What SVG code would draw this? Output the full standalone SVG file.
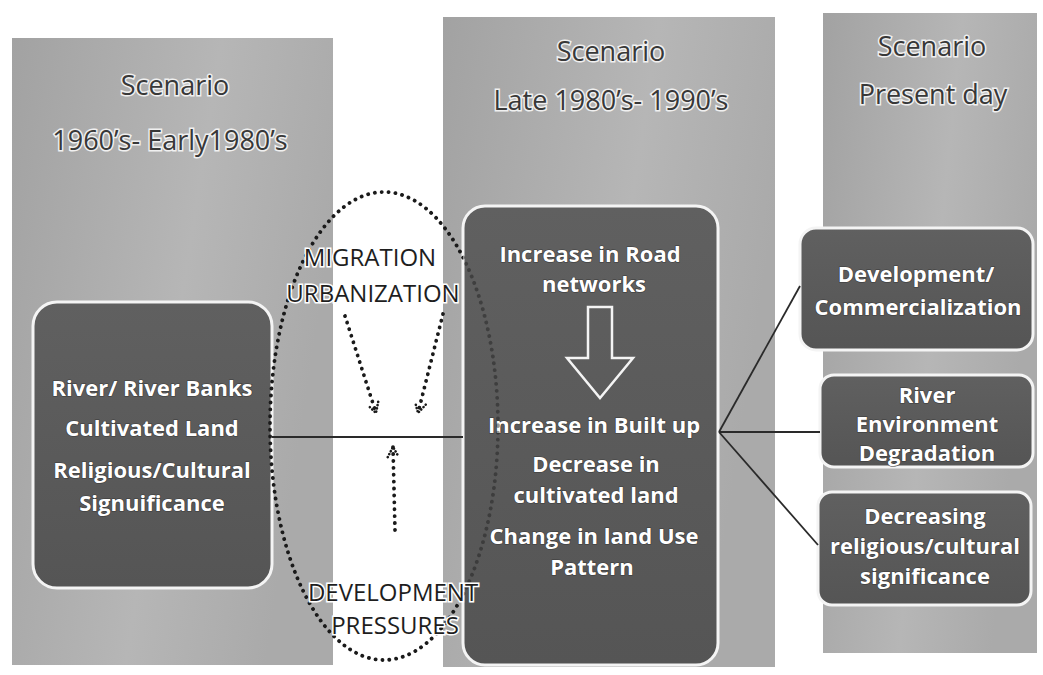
<svg xmlns="http://www.w3.org/2000/svg" width="1043" height="675" viewBox="0 0 1043 675">
  <defs>
    <linearGradient id="panelGrad" x1="0" y1="0" x2="1" y2="0.3">
      <stop offset="0" stop-color="#a2a2a2"/>
      <stop offset="0.6" stop-color="#b6b6b6"/>
      <stop offset="1" stop-color="#aaaaaa"/>
    </linearGradient>
    <linearGradient id="boxGrad" x1="0" y1="0" x2="0" y2="1">
      <stop offset="0" stop-color="#606060"/>
      <stop offset="1" stop-color="#555555"/>
    </linearGradient>
    <clipPath id="outsideBox">
      <path d="M0,0 H1043 V675 H0 Z M463,206 V665 H718 V206 Z" clip-rule="evenodd"/>
    </clipPath>
    <clipPath id="insideBox">
      <rect x="463" y="206" width="255" height="459"/>
    </clipPath>
    <marker id="chev" viewBox="0 0 14 14" refX="12" refY="7" markerWidth="14" markerHeight="14" markerUnits="userSpaceOnUse" orient="auto">
      <path d="M2,1.5 L12,7 L2,12.5" fill="none" stroke="#1a1a1a" stroke-width="2.6" stroke-dasharray="0.1 3.2" stroke-linecap="round"/>
    </marker>
    <style>
      .panel { fill: url(#panelGrad); }
      .box { fill: url(#boxGrad); stroke: #f4f4f4; stroke-width: 3; }
      .title { font-family: "Open Sans", Lato, sans-serif; font-size: 27px; fill: #383838; text-anchor: middle; stroke: #f0f0f0; stroke-width: 3px; paint-order: stroke; }
      .bt { font-family: "Open Sans", Lato, sans-serif; font-weight: bold; font-size: 22px; fill: #ffffff; text-anchor: middle; stroke: #3a3a3a; stroke-width: 1.2px; paint-order: stroke; }
      .lbl { font-family: "Open Sans", Lato, sans-serif; font-size: 24px; fill: #1e1e1e; text-anchor: middle; stroke: #ffffff; stroke-width: 3px; paint-order: stroke; }
      .conn { stroke: #2a2a2a; stroke-width: 1.8; fill: none; }
      .dot { stroke: #1a1a1a; stroke-width: 3.8; fill: none; stroke-dasharray: 0.1 6.8; stroke-linecap: round; }
    </style>
  </defs>

  <rect x="0" y="0" width="1043" height="675" fill="#ffffff"/>

  <!-- Scenario panels -->
  <g id="panel-1960s">
    <rect class="panel" x="12" y="38" width="321" height="627"/>
    <text class="title" x="175" y="95">Scenario</text>
    <text class="title" x="170" y="150">1960’s- Early1980’s</text>
  </g>
  <g id="panel-late1980s">
    <rect class="panel" x="443" y="17" width="332" height="650"/>
    <text class="title" x="611" y="61">Scenario</text>
    <text class="title" x="611" y="110">Late 1980’s- 1990’s</text>
  </g>
  <g id="panel-present">
    <rect class="panel" x="823" y="13" width="214" height="640"/>
    <text class="title" x="932" y="56">Scenario</text>
    <text class="title" x="933" y="104">Present day</text>
  </g>

  <!-- Left box -->
  <g id="node-river">
    <rect class="box" x="33" y="302" width="239" height="286" rx="24"/>
    <text class="bt" x="152" y="396">River/ River Banks</text>
    <text class="bt" x="152" y="436">Cultivated Land</text>
    <text class="bt" x="152" y="478">Religious/Cultural</text>
    <text class="bt" x="152" y="511">Signuificance</text>
  </g>

  <!-- Middle box -->
  <g id="node-changes">
    <rect class="box" x="463" y="206" width="255" height="459" rx="22"/>
    <text class="bt" x="590" y="262">Increase in Road</text>
    <text class="bt" x="594" y="292">networks</text>
    <path d="M588,307 L612,307 L612,358 L633,358 L600,398 L567,358 L588,358 Z" fill="none" stroke="#f4f4f4" stroke-width="2.5"/>
    <text class="bt" x="594" y="433">Increase in Built up</text>
    <text class="bt" x="596" y="472">Decrease in</text>
    <text class="bt" x="596" y="503">cultivated land</text>
    <text class="bt" x="594" y="544">Change in land Use</text>
    <text class="bt" x="592" y="575">Pattern</text>
  </g>

  <!-- Right boxes -->
  <g id="node-development">
    <rect class="box" x="800" y="228" width="233" height="122" rx="16"/>
    <text class="bt" x="916" y="282">Development/</text>
    <text class="bt" x="918" y="315">Commercialization</text>
  </g>
  <g id="node-degradation">
    <rect class="box" x="820" y="375" width="213" height="92" rx="14"/>
    <text class="bt" x="927" y="403">River</text>
    <text class="bt" x="927" y="432">Environment</text>
    <text class="bt" x="927" y="461">Degradation</text>
  </g>
  <g id="node-decreasing">
    <rect class="box" x="818" y="492" width="213" height="113" rx="14"/>
    <text class="bt" x="925" y="524">Decreasing</text>
    <text class="bt" x="925" y="554">religious/cultural</text>
    <text class="bt" x="925" y="584">significance</text>
  </g>

  <!-- Connectors -->
  <g id="connectors">
    <line class="conn" x1="272" y1="437" x2="463" y2="437"/>
    <line class="conn" x1="719" y1="432" x2="800" y2="286"/>
    <line class="conn" x1="719" y1="432" x2="820" y2="432"/>
    <line class="conn" x1="719" y1="432" x2="818" y2="545"/>
    <ellipse class="dot" cx="384" cy="426" rx="114" ry="234" clip-path="url(#outsideBox)"/>
    <ellipse class="dot" cx="384" cy="426" rx="114" ry="234" clip-path="url(#insideBox)" opacity="0.45"/>
    <line class="dot" x1="345" y1="316" x2="376" y2="413" marker-end="url(#chev)"/>
    <line class="dot" x1="443" y1="314" x2="418" y2="413" marker-end="url(#chev)"/>
    <line class="dot" x1="395" y1="530" x2="393" y2="447" marker-end="url(#chev)"/>
  </g>

  <!-- Influence labels -->
  <g id="migration">
    <text class="lbl" x="370" y="266">MIGRATION</text>
    <text class="lbl" x="373" y="302">URBANIZATION</text>
  </g>
  <g id="development-pressures">
    <text class="lbl" x="393" y="601">DEVELOPMENT</text>
    <text class="lbl" x="395" y="634">PRESSURES</text>
  </g>
</svg>
